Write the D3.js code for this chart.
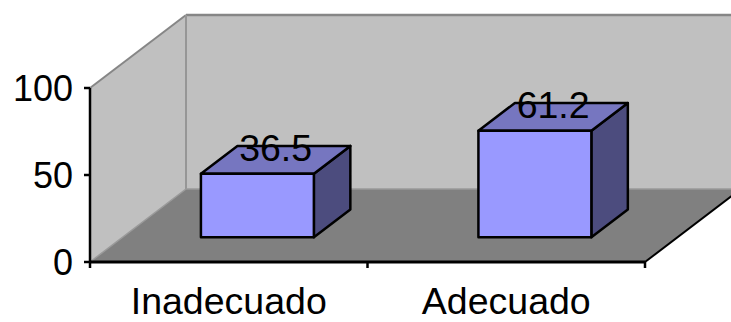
<!DOCTYPE html>
<html>
<head>
<meta charset="utf-8">
<script src="https://cdn.jsdelivr.net/npm/d3@7"></script>
<style>
  html, body { margin: 0; padding: 0; background: #fff; }
  svg { display: block; }
  text { font-family: "Liberation Sans", Arial, sans-serif; fill: #000; }
</style>
</head>
<body>
<svg id="chart" width="731" height="322"></svg>
<script>
// Data
const categories = ["Inadecuado", "Adecuado"];
const values = [36.5, 61.2];
const yTicks = [0, 50, 100];

const svg = d3.select("#chart");

// Front plane of the 3D box
const x0 = 90, x1 = 645, yBase = 262;
const y = d3.scaleLinear().domain([0, 100]).range([yBase, 88]);
const x = d3.scaleBand().domain(categories).range([x0, x1])
  .paddingInner(0.593).paddingOuter(0.2965);

// Oblique depth projection: z in [0,1] goes from front plane to back wall
const DX = 96, DY = -73;
const P = (px, py, z) => [px + DX * z, py + DY * z];
const poly = pts => "M" + pts.map(p => p.join(",")).join("L") + "Z";

const yTop = y(100);

// Back wall
svg.append("path")
  .attr("d", poly([P(x0, yTop, 1), P(x1, yTop, 1), P(x1, yBase, 1), P(x0, yBase, 1)]))
  .attr("fill", "#c0c0c0");
// Left wall
svg.append("path")
  .attr("d", poly([P(x0, yTop, 0), P(x0, yTop, 1), P(x0, yBase, 1), P(x0, yBase, 0)]))
  .attr("fill", "#c0c0c0");
// Floor
svg.append("path")
  .attr("d", poly([P(x0, yBase, 0), P(x0, yBase, 1), P(x1, yBase, 1), P(x1, yBase, 0)]))
  .attr("fill", "#808080");

// Wall edges
const edge = (a, b, color, w) => svg.append("line")
  .attr("x1", a[0]).attr("y1", a[1]).attr("x2", b[0]).attr("y2", b[1])
  .attr("stroke", color).attr("stroke-width", w);
edge(P(x0, yTop, 0), P(x0, yTop, 1), "#868686", 2);
edge(P(x0, yTop, 1), P(x1, yTop, 1), "#868686", 2.5);
edge(P(x0, yTop, 1), P(x0, yBase, 1), "#969696", 2);
edge(P(x0, yBase, 0), P(x0, yBase, 1), "#9a9a9a", 1.5);
edge(P(x0, yBase, 1), P(x1, yBase, 1), "#9a9a9a", 1.5);
// Right floor edge
edge(P(x1, yBase, 0), P(x1, yBase, 1), "#000", 2);

// Bars sit in the middle of the depth, nudged slightly left
const zFront = 0.34, zBack = 0.72, barShift = -4;
const bars = svg.append("g");
categories.forEach((c, i) => {
  const v = values[i];
  const bx0 = x(c) + barShift, bx1 = bx0 + x.bandwidth();
  const yt = y(v);
  const g = bars.append("g").attr("stroke", "#000").attr("stroke-width", 2.5)
    .attr("stroke-linejoin", "round");
  // right side
  g.append("path")
    .attr("d", poly([P(bx1, yt, zFront), P(bx1, yt, zBack), P(bx1, yBase, zBack), P(bx1, yBase, zFront)]))
    .attr("fill", "#4c4c7e");
  // top
  g.append("path")
    .attr("d", poly([P(bx0, yt, zFront), P(bx0, yt, zBack), P(bx1, yt, zBack), P(bx1, yt, zFront)]))
    .attr("fill", "#7676c0");
  // front
  g.append("path")
    .attr("d", poly([P(bx0, yt, zFront), P(bx1, yt, zFront), P(bx1, yBase, zFront), P(bx0, yBase, zFront)]))
    .attr("fill", "#9999ff");
  // value label on the top face centre
  const c0 = P((bx0 + bx1) / 2, yt, (zFront + zBack) / 2);
  svg.append("text")
    .attr("x", c0[0]).attr("y", c0[1] + 1)
    .attr("text-anchor", "middle")
    .attr("font-size", 37.5)
    .text(v.toFixed(1));
});

// Value axis
svg.append("line").attr("x1", x0).attr("x2", x0).attr("y1", yTop).attr("y2", yBase + 1)
  .attr("stroke", "#000").attr("stroke-width", 2.5);
yTicks.forEach(t => {
  svg.append("line").attr("x1", x0 - 6).attr("x2", x0).attr("y1", y(t)).attr("y2", y(t))
    .attr("stroke", "#000").attr("stroke-width", 2.5);
  svg.append("text").attr("x", 73).attr("y", y(t)).attr("dy", "0.36em")
    .attr("text-anchor", "end").attr("font-size", 36).text(t);
});

// Category axis
svg.append("line").attr("x1", x0).attr("x2", x1).attr("y1", yBase).attr("y2", yBase)
  .attr("stroke", "#000").attr("stroke-width", 3);
[x0, x0 + x.step(), x1].forEach(b => {
  svg.append("line").attr("x1", b).attr("x2", b).attr("y1", yBase).attr("y2", yBase + 6)
    .attr("stroke", "#000").attr("stroke-width", 2.5);
});
categories.forEach(c => {
  svg.append("text").attr("x", x(c) + x.bandwidth() / 2).attr("y", 313.5)
    .attr("text-anchor", "middle").attr("font-size", 37.5).text(c);
});
</script>
</body>
</html>
